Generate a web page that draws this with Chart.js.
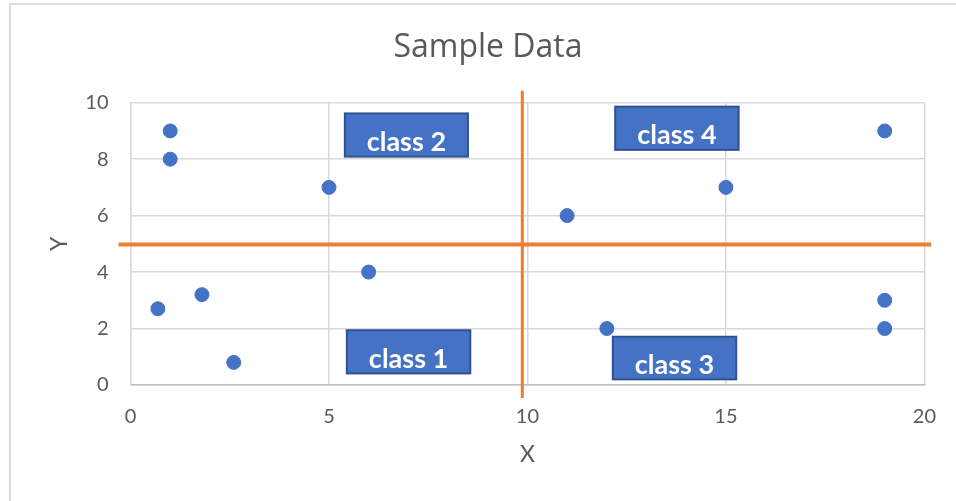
<!DOCTYPE html>
<html lang="en">
<head>
    <meta charset="UTF-8">
    <title>Sample Data</title>
    <script src="https://cdn.jsdelivr.net/npm/chart.js@4.4.0/dist/chart.umd.min.js"></script>
</head>
<style>
    body { margin: 0; background: #fff; }
    #wrap { position: relative; width: 956px; height: 501px; }
    #frame { position: absolute; left: 9px; top: 3px; right: -10px; bottom: -10px;
             border-left: 2px solid #dcdcdc; border-top: 2px solid #dcdcdc; pointer-events: none; }
</style>
<body>
    <div id="wrap">
        <canvas id="myCanvas" width="956" height="501"></canvas>
        <div id="frame"></div>
    </div>
<script>
// scatter points
const xValues = [1, 1, 5, 0.69, 1.8, 2.6, 6, 11, 15, 19, 12, 19, 19];
const yValues = [9, 8, 7, 2.7, 3.2, 0.8, 4, 6, 7, 9, 2, 3, 2];

// orange divider lines (drawn shapes, in data units)
const vLineX = [9.87, 9.87];
const vLineY = [10.42, -0.46];
const hLineX = [-0.3, 20.17];
const hLineY = [4.98, 4.98];

// class boxes (data units)
const boxLabels = ['class 2', 'class 4', 'class 1', 'class 3'];
const boxLeft   = [5.40, 12.21, 5.45, 12.15];
const boxRight  = [8.50, 15.32, 8.56, 15.26];
const boxTop    = [9.62, 9.86, 1.94, 1.71];
const boxBottom = [8.09, 8.33, 0.41, 0.20];

const xTicks = [0, 5, 10, 15, 20];
const yTicks = [0, 2, 4, 6, 8, 10];

const FONT = 'Lato, "Open Sans", sans-serif';
const GREY = '#595959';

const toPoints = (xs, ys) => xs.map((x, i) => ({x: x, y: ys[i]}));

const boxPlugin = {
    id: 'classBoxes',
    afterDatasetsDraw(chart) {
        const c = chart.ctx;
        const xs = chart.scales.x, ys = chart.scales.y;
        c.save();
        boxLabels.forEach((label, i) => {
            const l = xs.getPixelForValue(boxLeft[i]);
            const r = xs.getPixelForValue(boxRight[i]);
            const t = ys.getPixelForValue(boxTop[i]);
            const b = ys.getPixelForValue(boxBottom[i]);
            c.fillStyle = '#4472C4';
            c.fillRect(l, t, r - l, b - t);
            c.strokeStyle = '#2F528F';
            c.lineWidth = 2;
            c.strokeRect(l, t, r - l, b - t);
            c.fillStyle = '#ffffff';
            c.font = 'bold 27px ' + FONT;
            c.textAlign = 'center';
            c.textBaseline = 'alphabetic';
            c.fillText(label, (l + r) / 2, b - 5.5);
        });
        c.restore();
    }
};

const ctx = document.getElementById('myCanvas').getContext('2d');
const myChart = new Chart(ctx, {
    type: 'scatter',
    data: {
        datasets: [{
            label: 'Y',
            data: toPoints(xValues, yValues),
            backgroundColor: '#4472C4',
            borderColor: '#4472C4',
            pointRadius: 7,
            order: 2
        }, {
            type: 'line',
            data: toPoints(vLineX, vLineY),
            borderColor: '#ED7D31',
            borderWidth: 3,
            pointRadius: 0,
            showLine: true,
            clip: false,
            order: 1
        }, {
            type: 'line',
            data: toPoints(hLineX, hLineY),
            borderColor: '#ED7D31',
            borderWidth: 4,
            pointRadius: 0,
            showLine: true,
            clip: false,
            order: 1
        }]
    },
    options: {
        responsive: false,
        animation: false,
        layout: { padding: { left: 50, right: 30, top: 0, bottom: 0 } },
        plugins: {
            legend: { display: false },
            tooltip: { enabled: false },
            title: {
                display: true,
                text: 'Sample Data',
                color: GREY,
                font: { family: '"Open Sans", Lato, sans-serif', size: 32, weight: 'normal', lineHeight: 1.2 },
                padding: { top: 29, bottom: 35.3 }
            }
        },
        scales: {
            x: {
                type: 'linear',
                min: 0, max: 20,
                afterBuildTicks: (s) => { s.ticks = xTicks.map(v => ({value: v})); },
                afterFit: (s) => { s.height = 116; },
                grid: { color: '#d9d9d9', lineWidth: 1.5, drawTicks: false },
                border: { color: '#bfbfbf', width: 1.5 },
                ticks: { color: GREY, padding: 20, font: { family: FONT, size: 20 } },
                title: { display: true, text: 'X', color: GREY,
                         font: { family: FONT, size: 23, lineHeight: 1.2 },
                         padding: { top: 0, bottom: 33 } }
            },
            y: {
                type: 'linear',
                min: 0, max: 10,
                afterBuildTicks: (s) => { s.ticks = yTicks.map(v => ({value: v})); },
                afterFit: (s) => { s.width = 80.5; },
                grid: { color: '#d9d9d9', lineWidth: 1.5, drawTicks: false },
                border: { color: '#d9d9d9', width: 1.5 },
                ticks: { color: GREY, padding: 22, font: { family: FONT, size: 20 } },
                title: { display: true, text: 'Y', color: GREY,
                         font: { family: FONT, size: 23, lineHeight: 1 },
                         padding: { top: -1.5, bottom: 0 } }
            }
        }
    },
    plugins: [boxPlugin]
});
</script>
</body>
</html>
